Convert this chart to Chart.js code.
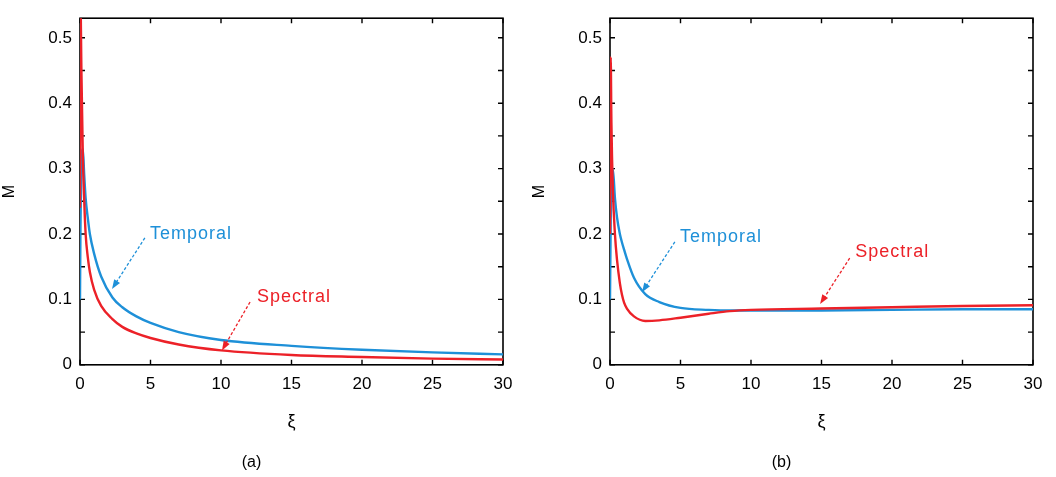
<!DOCTYPE html>
<html>
<head>
<meta charset="utf-8">
<script src="https://cdn.jsdelivr.net/npm/chart.js@4/dist/chart.umd.min.js"></script>
<style>
  html, body { margin: 0; padding: 0; background: #fff; }
  .panel { position: absolute; top: 0; height: 477px; }
  #pa { left: 0; width: 528px; }
  #pb { left: 530px; width: 526px; }
</style>
</head>
<body>
<div class="panel" id="pa"><canvas id="chartA"></canvas></div>
<div class="panel" id="pb"><canvas id="chartB"></canvas></div>
<script>
// panel (a)
const xiA = [0, 0.03, 0.1, 0.2, 0.3, 0.4, 0.55, 0.7, 1, 1.5, 2.3, 3, 4, 5, 7, 10, 15, 20, 25, 30];
const temporalA = [0.1, 0.2, 0.3, 0.33, 0.29, 0.255, 0.225, 0.2, 0.17, 0.135, 0.103, 0.088, 0.074, 0.064, 0.05, 0.038, 0.029, 0.023, 0.019, 0.016];
const spectralA = [0.24, 0.56, 0.45, 0.32, 0.25, 0.2, 0.165, 0.142, 0.115, 0.09, 0.07, 0.058, 0.048, 0.041, 0.031, 0.022, 0.015, 0.012, 0.0095, 0.008];

// panel (b)
const xiB = [0, 0.05, 0.1, 0.2, 0.35, 0.5, 0.7, 0.85, 1, 1.2, 1.7, 2.5, 3.5, 5, 7, 8.5, 10, 15, 20, 25, 30];
const temporalB = [0.1, 0.22, 0.28, 0.3, 0.255, 0.225, 0.2, 0.187, 0.176, 0.162, 0.133, 0.108, 0.096, 0.087, 0.084, 0.083, 0.083, 0.083, 0.084, 0.085, 0.085];
const spectralB = [0.2, 0.47, 0.37, 0.27, 0.2, 0.16, 0.125, 0.107, 0.095, 0.086, 0.074, 0.067, 0.068, 0.072, 0.078, 0.082, 0.084, 0.086, 0.088, 0.09, 0.091];

const xTicks = [0, 5, 10, 15, 20, 25, 30];
const yMax = 0.53;

const BLUE = '#1e90d8';
const RED = '#ec2128';
const FONT = 'Liberation Sans, Arial, sans-serif';

function pts(xs, ys) {
  return xs.map((x, i) => ({ x: x, y: ys[i] }));
}

// frame with inward ticks, like the matlab look
const framePlugin = {
  id: 'frame',
  beforeDatasetsDraw(chart) {
    const { ctx, chartArea: a, scales: { x, y } } = chart;
    ctx.save();
    ctx.strokeStyle = '#000';
    ctx.lineWidth = 1.6;
    ctx.strokeRect(a.left, a.top, a.width, a.height);
    ctx.lineWidth = 1.4;
    ctx.beginPath();
    x.ticks.forEach(t => {
      const px = x.getPixelForValue(t.value);
      ctx.moveTo(px, a.bottom); ctx.lineTo(px, a.bottom - 5);
      ctx.moveTo(px, a.top); ctx.lineTo(px, a.top + 5);
    });
    y.ticks.forEach(t => {
      if (t.value > 0.52) return;
      const py = y.getPixelForValue(t.value);
      ctx.moveTo(a.left, py); ctx.lineTo(a.left + 5, py);
      ctx.moveTo(a.right, py); ctx.lineTo(a.right - 5, py);
    });
    ctx.stroke();
    ctx.restore();
  },
  afterDatasetsDraw(chart, args, opts) {
    const { ctx, scales: { x, y } } = chart;
    ctx.save();
    (opts.notes || []).forEach(n => {
      ctx.fillStyle = n.color;
      ctx.strokeStyle = n.color;
      ctx.font = '18px ' + FONT;
      ctx.letterSpacing = '1px';
      ctx.textBaseline = 'middle';
      ctx.textAlign = 'left';
      ctx.fillText(n.text, x.getPixelForValue(n.tx), y.getPixelForValue(n.ty));
      const x0 = x.getPixelForValue(n.from[0]), y0 = y.getPixelForValue(n.from[1]);
      const x1 = x.getPixelForValue(n.to[0]), y1 = y.getPixelForValue(n.to[1]);
      const ang = Math.atan2(y1 - y0, x1 - x0);
      const hl = 10;
      ctx.lineWidth = 1.3;
      ctx.setLineDash([3, 2]);
      ctx.beginPath();
      ctx.moveTo(x0, y0);
      ctx.lineTo(x1 - hl * 0.8 * Math.cos(ang), y1 - hl * 0.8 * Math.sin(ang));
      ctx.stroke();
      ctx.setLineDash([]);
      ctx.beginPath();
      ctx.moveTo(x1, y1);
      ctx.lineTo(x1 - hl * Math.cos(ang - 0.35), y1 - hl * Math.sin(ang - 0.35));
      ctx.lineTo(x1 - hl * Math.cos(ang + 0.35), y1 - hl * Math.sin(ang + 0.35));
      ctx.closePath();
      ctx.fill();
    });
    ctx.restore();
  }
};

function makeChart(id, xi, temporal, spectral, tag, rightPad, notes) {
  const ctx = document.getElementById(id).getContext('2d');
  return new Chart(ctx, {
    type: 'line',
    data: {
      datasets: [{
        label: 'Spectral',
        data: pts(xi, spectral),
        borderColor: RED,
        borderWidth: 2.4,
        pointRadius: 0,
        cubicInterpolationMode: 'monotone',
      }, {
        label: 'Temporal',
        data: pts(xi, temporal),
        borderColor: BLUE,
        borderWidth: 2.4,
        pointRadius: 0,
        cubicInterpolationMode: 'monotone',
      }]
    },
    options: {
      responsive: true,
      maintainAspectRatio: false,
      animation: false,
      layout: { padding: { top: 7, right: rightPad, left: 0, bottom: 0 } },
      plugins: {
        legend: { display: false },
        tooltip: { enabled: false },
        title: {
          display: true,
          position: 'bottom',
          text: tag,
          color: '#000',
          font: { family: FONT, size: 16, weight: 'normal' },
          padding: { top: 0, bottom: 5 },
        },
        frame: { notes: notes },
      },
      scales: {
        x: {
          type: 'linear',
          min: 0,
          max: 30,
          afterBuildTicks: s => { s.ticks = xTicks.map(v => ({ value: v })); },
          grid: { display: false, drawTicks: false },
          border: { display: false },
          ticks: {
            color: '#000',
            padding: 9,
            font: { family: FONT, size: 17 },
          },
          title: {
            display: true,
            text: 'ξ',
            color: '#000',
            font: { family: FONT, size: 18 },
            padding: { top: 0, bottom: 20 },
          },
          afterFit: s => { s.height = 88; },
        },
        y: {
          min: 0,
          max: yMax,
          grid: { display: false, drawTicks: false },
          border: { display: false },
          ticks: {
            stepSize: 0.05,
            autoSkip: false,
            color: '#000',
            padding: 8,
            font: { family: FONT, size: 17 },
            callback: v => {
              const k = Math.round(v * 10);
              if (Math.abs(v * 10 - k) > 1e-6 || v > 0.52) return '';
              return k === 0 ? '0' : (k / 10).toFixed(1);
            },
          },
          title: {
            display: true,
            text: 'M',
            color: '#000',
            font: { family: FONT, size: 16 },
            padding: { top: 0, bottom: 4 },
          },
          afterFit: s => { s.width = 80; },
        }
      }
    },
    plugins: [framePlugin]
  });
}

let chartA = makeChart('chartA', xiA, temporalA, spectralA, '(a)', 25, [
  { text: 'Temporal', color: BLUE, tx: 4.96, ty: 0.2, from: [4.6, 0.194], to: [2.27, 0.116] },
  { text: 'Spectral', color: RED, tx: 12.55, ty: 0.104, from: [12.06, 0.096], to: [10.07, 0.022] },
]);

let chartB = makeChart('chartB', xiB, temporalB, spectralB, '(b)', 23, [
  { text: 'Temporal', color: BLUE, tx: 4.96, ty: 0.196, from: [4.6, 0.188], to: [2.27, 0.111] },
  { text: 'Spectral', color: RED, tx: 17.4, ty: 0.173, from: [17.0, 0.163], to: [14.9, 0.093] },
]);
</script>
</body>
</html>
